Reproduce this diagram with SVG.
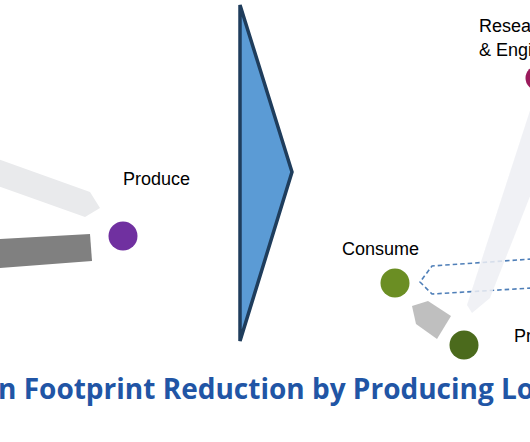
<svg xmlns="http://www.w3.org/2000/svg" width="530" height="442" viewBox="0 0 530 442">
<style>
.lbl{font-family:"Liberation Sans",Arial,sans-serif;font-size:18px;fill:#000}
.title{font-family:"Open Sans","Noto Sans",sans-serif;font-weight:bold;font-size:28px;fill:#2155a5}
.band{fill:#e9eaec}
.dash{fill:none;stroke:#4f7fb8;stroke-width:1.6;stroke-dasharray:4.5 3}
</style>
<rect width="530" height="442" fill="#fff"/>
<g id="connectors">
  <polygon class="band" points="-5,158 90,192 100,208 85,217 -5,185"/>
  <polygon points="0,239 90,234 92,261 0,268" fill="#808080"/>
  <polyline class="dash" points="532,259 432,266 420,282 432,294 532,288"/>
  <polygon points="535,95 467,305 472,313 490,298 556,130" fill="#edeff3" opacity="0.85"/>
  <polygon points="412,306 428,301 451,316 437,339 416,324" fill="#bfbfbf"/>
</g>
<g id="transition-arrow">
  <polygon points="240,5 292,172 240,341" fill="#5b9bd5" stroke="#1f3d5c" stroke-width="3.5" stroke-linejoin="miter"/>
</g>
<g id="node-produce-left">
  <circle cx="123" cy="236" r="14.5" fill="#7030a0"/>
  <text class="lbl" x="123" y="185">Produce</text>
</g>
<g id="node-research">
  <circle cx="538" cy="78" r="12.5" fill="#9b1b5c"/>
  <text class="lbl" x="479" y="32">Resea</text>
  <text class="lbl" x="479" y="56">&amp; Engi</text>
</g>
<g id="node-consume">
  <circle cx="395" cy="283" r="14.5" fill="#6b8e23"/>
  <text class="lbl" x="342" y="255">Consume</text>
</g>
<g id="node-produce-right">
  <circle cx="464" cy="345" r="14.5" fill="#4b6a1c"/>
  <text class="lbl" x="514" y="342">Pr</text>
</g>
<text class="title" x="-2" y="399">n Footprint Reduction by Producing Lo</text>
</svg>
